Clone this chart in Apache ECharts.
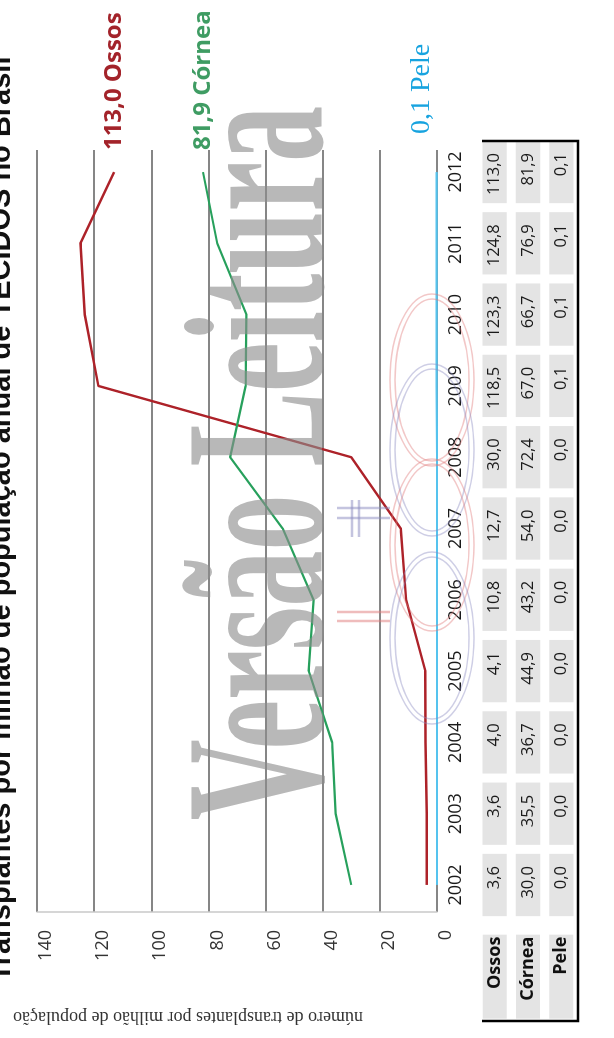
<!DOCTYPE html>
<html><head><meta charset="utf-8">
<script src="https://cdn.jsdelivr.net/npm/echarts@6/dist/echarts.min.js"></script>
<style>
html,body{margin:0;padding:0;width:614px;height:1038px;overflow:hidden;background:#fff;}
#wrap{position:absolute;left:0;top:0;width:1038px;height:614px;transform-origin:0 0;transform:translate(0px,1038px) rotate(-90deg);}
#chart{width:1038px;height:614px;}
</style></head><body>
<div id="wrap"><div id="chart"></div></div>
<script>
const years = ['2002','2003','2004','2005','2006','2007','2008','2009','2010','2011','2012'];
const ossos = [3.6, 3.6, 4.0, 4.1, 10.8, 12.7, 30.0, 118.5, 123.3, 124.8, 113.0];
const cornea = [30.0, 35.5, 36.7, 44.9, 43.2, 54.0, 72.4, 67.0, 66.7, 76.9, 81.9];
const pele = [0.0, 0.0, 0.0, 0.0, 0.0, 0.0, 0.0, 0.1, 0.1, 0.1, 0.1];
const rowNames = ['Ossos', 'Córnea', 'Pele'];
const seriesNames = ['Ossos', 'Córnea', 'Pele'];
const valueTicks = [0, 20, 40, 60, 80, 100, 120, 140];
const titleText = 'Transplantes por milhão de população anual de TECIDOS no Brasil';
const yTitle = 'número de transplantes por milhão de população';
const watermark = 'Versão Leitura';

const fmt = v => v.toFixed(1).replace('.', ',');
const rows = [ossos, cornea, pele];
const tableData = [];
rows.forEach((arr, r) => arr.forEach((v, i) => tableData.push([i, r, v])));
const pairs = arr => arr.map((v, i) => [Number(years[i]), v]);

const chart = echarts.init(document.getElementById('chart'), null, {renderer: 'canvas'});
const sans = '"Open Sans", "Liberation Sans", sans-serif';
const serif = '"Liberation Serif", "DejaVu Serif", serif';

// decorative logo rings of the watermark (ellipses, original unrotated frame)
const ringSpec = [
  {cx: 658, color: '#e07a7a'}, {cx: 588, color: '#8a8ac0'},
  {cx: 493, color: '#e07a7a'}, {cx: 400, color: '#8a8ac0'}
];
const ringGraphics = [];
ringSpec.forEach(r => {
  [0, 5].forEach(d => ringGraphics.push({
    type: 'ellipse', z: 90, silent: true,
    shape: {cx: r.cx, cy: 432, rx: 86 - d, ry: 42 - d},
    style: {fill: null, stroke: r.color, lineWidth: 1.5, opacity: 0.42}
  }));
});
const marks = [
  {x1: 530, y1: 337, x2: 530, y2: 390, c: '#8a8ac0'}, {x1: 520, y1: 337, x2: 520, y2: 390, c: '#8a8ac0'},
  {x1: 501, y1: 352, x2: 538, y2: 352, c: '#8a8ac0'}, {x1: 501, y1: 359, x2: 538, y2: 359, c: '#8a8ac0'},
  {x1: 426, y1: 337, x2: 426, y2: 390, c: '#e07a7a'}, {x1: 417, y1: 337, x2: 417, y2: 390, c: '#e07a7a'}
].map(m => ({type: 'line', z: 90, silent: true, shape: {x1: m.x1, y1: m.y1, x2: m.x2, y2: m.y2},
  style: {stroke: m.c, lineWidth: 2.5, opacity: 0.5}}));

chart.setOption({
  animation: false,
  backgroundColor: '#ffffff',
  grid: [
    {left: 126, right: 150, top: 37, bottom: 177, show: false},
    {left: 117.35, right: 136.35, top: 478, bottom: 36, show: false}
  ],
  xAxis: [
    {type: 'value', gridIndex: 0, min: 2001.62, max: 2012.31,
     axisLine: {show: false}, axisTick: {show: false}, axisLabel: {show: false}, splitLine: {show: false}},
    {type: 'category', gridIndex: 1, data: years, position: 'top', boundaryGap: true,
     axisLine: {show: false}, axisTick: {show: false}, splitLine: {show: false},
     axisLabel: {margin: 13, fontSize: 18, fontFamily: sans, color: '#1a1a1a', align: 'center'}}
  ],
  yAxis: [
    {type: 'value', gridIndex: 0, min: valueTicks[0], max: valueTicks[valueTicks.length - 1], interval: 20,
     axisLine: {show: true, lineStyle: {color: '#c8c8c8', width: 1.5}}, axisTick: {show: false},
     axisLabel: {margin: 18, fontSize: 18, fontFamily: sans, color: '#333', verticalAlign: 'top'},
     splitLine: {show: true, lineStyle: {color: '#5e5e5e', width: 1.7}}},
    {type: 'category', gridIndex: 1, data: rowNames, inverse: true,
     axisLine: {show: false}, axisTick: {show: false}, splitLine: {show: false},
     axisLabel: {margin: 14, fontSize: 18, fontWeight: 'bold', fontFamily: sans, color: '#111',
                 align: 'right', backgroundColor: '#e4e4e4', width: 82, height: 24, lineHeight: 24, padding: [0, 2, 0, 0]}}
  ],
  series: [
    {name: seriesNames[0], type: 'line', xAxisIndex: 0, yAxisIndex: 0, data: pairs(ossos),
     symbol: 'none', lineStyle: {color: '#ad2229', width: 2.4}, z: 3,
     endLabel: {show: true, formatter: p => fmt(p.value[1]) + ' ' + seriesNames[0], distance: 22,
                fontFamily: sans, fontWeight: 'bold', fontSize: 24, color: '#a3232a'}},
    {name: seriesNames[1], type: 'line', xAxisIndex: 0, yAxisIndex: 0, data: pairs(cornea),
     symbol: 'none', lineStyle: {color: '#27a05c', width: 2.2}, z: 3,
     endLabel: {show: true, formatter: p => fmt(p.value[1]) + ' ' + seriesNames[1], distance: 22,
                fontFamily: sans, fontWeight: 'bold', fontSize: 24, color: '#3f9c63'}},
    {name: seriesNames[2], type: 'line', xAxisIndex: 0, yAxisIndex: 0, data: pairs(pele),
     symbol: 'none', lineStyle: {color: '#55c3ee', width: 2.2}, z: 3,
     endLabel: {show: true, formatter: p => fmt(p.value[1]) + ' ' + seriesNames[2], distance: 38, offset: [0, -15],
                fontFamily: serif, fontSize: 28, color: '#17a3df'}},
    {type: 'custom', xAxisIndex: 1, yAxisIndex: 1, data: tableData, clip: false,
     renderItem: (params, api) => {
       const c = api.coord([api.value(0), api.value(1)]);
       const s = api.size([1, 1]);
       return {type: 'group', children: [
         {type: 'rect', shape: {x: c[0] - s[0] / 2 + 4.5, y: c[1] - s[1] / 2 + 4.5, width: s[0] - 9, height: s[1] - 9},
          style: {fill: '#e4e4e4'}},
         {type: 'text', style: {x: c[0] + 19, y: c[1], text: fmt(api.value(2)), align: 'right', verticalAlign: 'middle',
          fontSize: 16.5, fontFamily: sans, fill: '#1a1a1a'}}
       ]};
     }}
  ],
  graphic: [
    {type: 'text', left: 'center', top: -13, style: {text: titleText, fontSize: 29, fontWeight: 'bold', fontFamily: '"Liberation Sans", sans-serif', fill: '#111'}},
    {type: 'text', x: 21, y: 188, rotation: Math.PI / 2,
     style: {text: yTitle, align: 'center', verticalAlign: 'middle', fontSize: 18, fontFamily: serif, fill: '#333'}},
    {type: 'polyline', shape: {points: [[17, 482], [17, 578], [897, 578], [897, 482]]},
     style: {stroke: '#000', lineWidth: 2.5, fill: null}, z: 10},
    ...ringGraphics,
    ...marks,
    {type: 'text', x: 575, y: 270, scaleX: 0.56, z: 100, silent: true,
     style: {text: watermark, align: 'center', verticalAlign: 'middle', fontSize: 200, fontWeight: 'bold', fontFamily: serif, fill: '#8c8c8c', opacity: 0.62}}
  ]
});
</script>
</body></html>
